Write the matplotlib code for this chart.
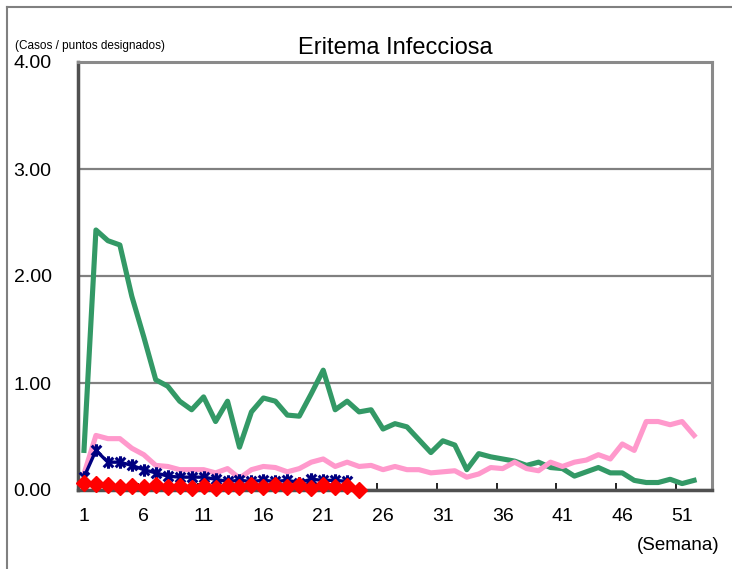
import numpy as np
import matplotlib
matplotlib.use("Agg")
import matplotlib.pyplot as plt
from matplotlib.lines import Line2D
from matplotlib.path import Path

# weekly values (cases per sentinel site)
weeks_green = list(range(1, 53))
green = [0.37, 2.43, 2.33, 2.29, 1.81, 1.43, 1.03, 0.97, 0.83, 0.75,
         0.87, 0.64, 0.83, 0.40, 0.73, 0.86, 0.83, 0.70, 0.69, 0.90,
         1.12, 0.75, 0.83, 0.73, 0.75, 0.57, 0.62, 0.59, 0.47, 0.35,
         0.46, 0.42, 0.19, 0.34, 0.31, 0.29, 0.27, 0.23, 0.26, 0.21,
         0.20, 0.13, 0.17, 0.21, 0.16, 0.16, 0.09, 0.07, 0.07, 0.10,
         0.06, 0.09]

weeks_pink = list(range(1, 53))
pink = [0.15, 0.51, 0.48, 0.48, 0.39, 0.33, 0.23, 0.22, 0.19, 0.19,
        0.19, 0.16, 0.20, 0.11, 0.19, 0.22, 0.21, 0.17, 0.20, 0.26,
        0.29, 0.22, 0.26, 0.22, 0.23, 0.19, 0.22, 0.19, 0.19, 0.16,
        0.17, 0.18, 0.12, 0.15, 0.21, 0.20, 0.26, 0.20, 0.18, 0.26,
        0.22, 0.26, 0.28, 0.33, 0.29, 0.43, 0.37, 0.64, 0.64, 0.61,
        0.64, 0.51]

weeks_navy = list(range(1, 24))
navy = [0.12, 0.37, 0.26, 0.26, 0.23, 0.19, 0.16, 0.13, 0.12, 0.12,
        0.12, 0.10, 0.08, 0.09, 0.08, 0.09, 0.08, 0.09, 0.07, 0.10,
        0.09, 0.09, 0.08]

weeks_red = list(range(1, 25))
red = [0.07, 0.06, 0.05, 0.03, 0.04, 0.03, 0.05, 0.03, 0.04, 0.02,
       0.04, 0.02, 0.04, 0.03, 0.05, 0.03, 0.05, 0.03, 0.05, 0.02,
       0.05, 0.03, 0.04, 0.00]

xtick_weeks = [1, 6, 11, 16, 21, 26, 31, 36, 41, 46, 51]
yticks = [0, 1, 2, 3, 4]

# excel-like star marker: x plus vertical bar
star = Path([(-1, -1), (1, 1), (-1, 1), (1, -1), (0, -1.3), (0, 1.3)],
            [Path.MOVETO, Path.LINETO, Path.MOVETO, Path.LINETO, Path.MOVETO, Path.LINETO])

fig = plt.figure(figsize=(7.32, 5.69), dpi=100)
ax = fig.add_axes([78 / 732, 1 - 490 / 569, 634 / 732, 428 / 569])

ax.plot(weeks_green, green, color="#339966", linewidth=3.7, zorder=3)
ax.plot(weeks_pink, pink, color="#FF99CC", linewidth=3.7, zorder=3)
ax.plot(weeks_navy, navy, color="#000080", linewidth=2.4, marker=star, markersize=9,
        markeredgewidth=2.2, zorder=4, clip_on=False)
ax.plot(weeks_red, red, color="#FF0000", linewidth=2.4, marker="D", markersize=8.5,
        markeredgecolor="#FF0000", zorder=5, clip_on=False)

ax.set_xlim(0.5, 53.5)
ax.set_ylim(0, 4)
ax.set_yticks(yticks)
ax.set_yticklabels(["%.2f" % v for v in yticks], fontsize=14, family="Liberation Sans")
ax.set_xticks(xtick_weeks)
ax.set_xticklabels([str(w) for w in xtick_weeks], fontsize=14, family="Liberation Sans")
ax.set_xticks(np.arange(0.5, 51, 5), minor=True)
ax.tick_params(axis="x", which="major", length=0, pad=13)
ax.tick_params(axis="x", which="minor", direction="in", length=5, width=1.2, color="#000000")
ax.tick_params(axis="y", direction="in", length=0, pad=19)

ax.grid(axis="y", color="#808080", linewidth=1.6)
ax.set_axisbelow(True)
for s in ["left", "bottom"]:
    ax.spines[s].set_color("#505050")
    ax.spines[s].set_linewidth(2.5)
for s in ["top", "right"]:
    ax.spines[s].set_color("#8a8a8a")
    ax.spines[s].set_linewidth(2.2)

ax.set_title("Eritema Infecciosa", fontsize=17, family="Liberation Sans", pad=6)
fig.text(15 / 732, 1 - 46 / 569, "(Casos / puntos designados)", fontsize=8.5,
         family="Liberation Sans", va="center", ha="left")
fig.text(720 / 732, 1 - 546 / 569, "(Semana)", fontsize=13.5, family="Liberation Sans",
         va="center", ha="right")

# outer frame (top and left edges visible)
fig.add_artist(Line2D([7 / 732, 7 / 732], [0, 1 - 7 / 569], color="#808080", linewidth=1.5))
fig.add_artist(Line2D([7 / 732, 1], [1 - 7 / 569, 1 - 7 / 569], color="#808080", linewidth=1.5))

fig.savefig("out.png", dpi=100)
